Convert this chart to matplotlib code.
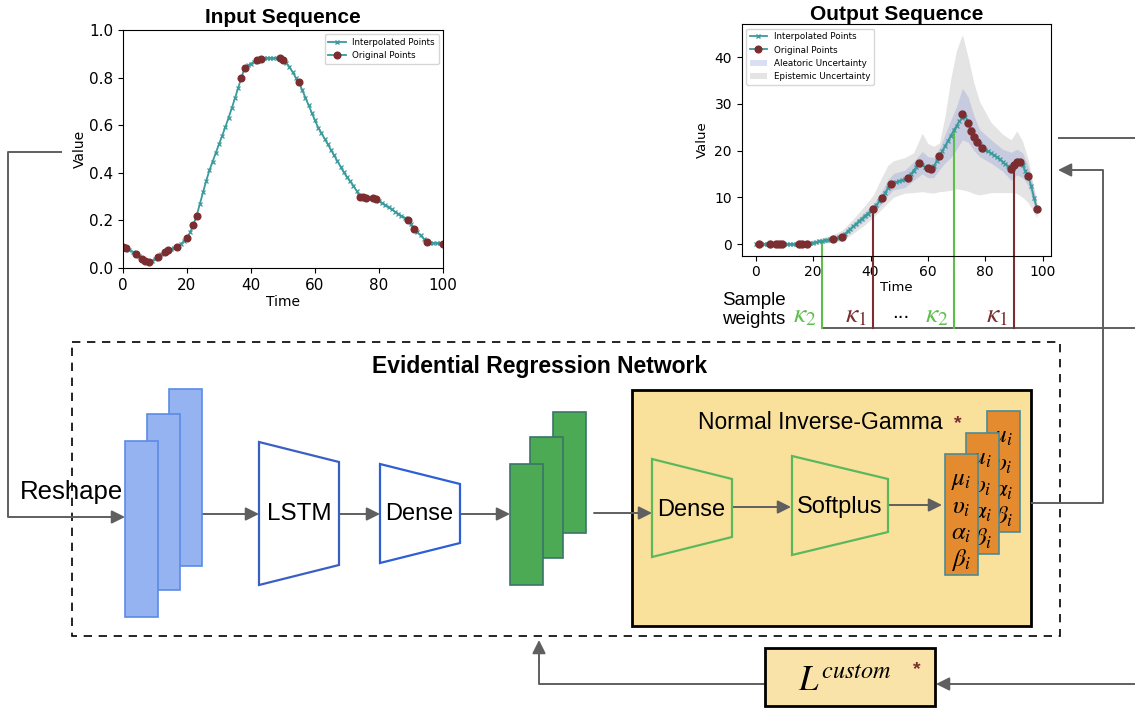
import matplotlib
matplotlib.use("Agg")
import matplotlib.pyplot as plt
from matplotlib.patches import Rectangle, Polygon, Patch
from matplotlib.lines import Line2D

plt.rcParams["mathtext.fontset"] = "stix"

# Serie de entrada (normalizada)
inp_time = list(range(101))
inp_interp = [0.090, 0.085, 0.077, 0.068, 0.060, 0.050, 0.037, 0.030, 0.024, 0.030,
              0.038, 0.045, 0.058, 0.068, 0.076, 0.080, 0.085, 0.090, 0.100, 0.112,
              0.125, 0.150, 0.182, 0.220, 0.268, 0.318, 0.366, 0.410, 0.447, 0.484,
              0.520, 0.556, 0.593, 0.632, 0.672, 0.714, 0.757, 0.800, 0.840, 0.851,
              0.859, 0.866, 0.873, 0.880, 0.882, 0.882, 0.882, 0.882, 0.882, 0.882,
              0.876, 0.862, 0.845, 0.823, 0.800, 0.780, 0.748, 0.716, 0.684, 0.652,
              0.620, 0.590, 0.567, 0.543, 0.520, 0.496, 0.473, 0.449, 0.426, 0.402,
              0.382, 0.364, 0.346, 0.324, 0.300, 0.297, 0.295, 0.295, 0.295, 0.290,
              0.282, 0.273, 0.264, 0.255, 0.246, 0.237, 0.228, 0.219, 0.211, 0.203,
              0.183, 0.163, 0.150, 0.137, 0.123, 0.110, 0.107, 0.105, 0.105, 0.104,
              0.100]
inp_orig_time = [0, 1, 4, 6, 7, 8, 11, 13, 14, 17, 20, 22, 23, 37, 38, 42, 43,
                 49, 50, 55, 74, 75, 76, 78, 79, 89, 91, 95, 100]
inp_orig_val = [0.090, 0.085, 0.060, 0.037, 0.030, 0.024, 0.045, 0.068, 0.076,
                0.090, 0.125, 0.182, 0.220, 0.800, 0.840, 0.873, 0.880, 0.882,
                0.876, 0.780, 0.300, 0.297, 0.295, 0.295, 0.290, 0.203, 0.163,
                0.110, 0.100]

# Serie de saida
out_time = list(range(99))
out_interp = [0.0, 0.0, 0.0, 0.0, 0.0, 0.0, 0.0, 0.0, 0.0, 0.0,
              0.0, 0.0, 0.0, 0.0, 0.0, 0.0, 0.0, 0.05, 0.1, 0.2,
              0.3, 0.42, 0.55, 0.68, 0.8, 0.9, 1.0, 1.1, 1.25, 1.4,
              1.6, 2.1, 2.7, 3.2, 3.8, 4.3, 4.9, 5.4, 6.0, 6.5,
              7.0, 7.5, 8.3, 9.1, 9.9, 10.9, 11.9, 12.9, 13.1, 13.3,
              13.5, 13.7, 13.9, 14.1, 14.9, 15.7, 16.5, 17.3, 16.9, 16.5,
              16.2, 16.0, 16.6, 17.7, 18.8, 19.9, 21.0, 22.1, 23.2, 24.3,
              25.3, 26.3, 27.0, 27.2, 26.2, 24.6, 23.1, 22.1, 21.3, 20.6,
              20.2, 19.8, 19.4, 19.0, 18.6, 18.1, 17.6, 17.1, 16.6, 16.1,
              16.9, 17.3, 17.3, 16.8, 15.6, 14.4, 12.4, 9.8, 7.6]
out_orig_time = [1, 5, 7, 8, 9, 15, 16, 18, 27, 30, 41, 44, 47, 53, 57, 60, 61,
                 64, 72, 74, 75, 76, 77, 79, 89, 90, 91, 92, 95, 98]
out_orig_val = [0.0, 0.0, 0.0, 0.0, 0.0, 0.0, 0.0, 0.0, 1.1, 1.5, 7.4, 9.9, 12.9,
                14.1, 17.4, 16.2, 16.0, 18.8, 27.8, 25.9, 24.2, 22.9, 21.9, 20.6,
                16.0, 17.0, 17.5, 17.5, 14.6, 7.4]

# Faixas de incerteza
band_time = [0, 16, 20, 26, 30, 34, 38, 41, 44, 46, 48, 52, 55, 58, 60, 62, 64,
             66, 68, 70, 72, 74, 76, 78, 82, 86, 89, 91, 93, 95, 98]
epi_high = [0.3, 0.3, 0.9, 1.8, 2.9, 5.4, 8.2, 10.5, 14.4, 16.8, 17.8, 18.5, 19.5,
            23.7, 21.5, 20.9, 21.6, 27.5, 35.5, 41.5, 44.8, 40.0, 34.5, 30.5, 26.0,
            23.5, 22.3, 24.2, 22.0, 18.0, 8.8]
epi_low = [-0.3, -0.3, -0.2, 0.3, 0.6, 2.3, 4.1, 5.8, 7.5, 8.8, 10.0, 10.9, 11.0,
           11.2, 11.0, 10.9, 11.2, 11.3, 11.5, 11.8, 11.6, 11.3, 10.8, 10.5, 11.0,
           11.0, 11.0, 10.8, 10.0, 8.8, 5.6]
ale_high = [0.15, 0.15, 0.6, 1.4, 2.1, 4.5, 6.9, 8.5, 11.3, 13.7, 15.1, 15.8, 17.6,
            19.8, 18.7, 18.5, 20.5, 23.5, 26.5, 29.5, 33.3, 31.5, 27.5, 24.5, 22.3,
            20.3, 19.6, 20.3, 19.5, 16.6, 8.6]
ale_low = [-0.15, -0.15, 0.1, 0.6, 1.1, 3.1, 5.1, 6.6, 8.6, 10.4, 11.6, 12.1, 13.6,
           15.0, 14.2, 14.2, 15.9, 17.4, 18.5, 20.3, 22.3, 21.8, 20.0, 18.7, 17.3,
           15.6, 13.6, 14.8, 14.2, 12.5, 6.2]

# Pesos das amostras
weight_time = [23, 41, 69, 90]
weight_label = [r"$\kappa_2$", r"$\kappa_1$", r"$\kappa_2$", r"$\kappa_1$"]
weight_kind = ["k2", "k1", "k2", "k1"]

param_labels = [r"$\mu_i$", r"$\upsilon_i$", r"$\alpha_i$", r"$\beta_i$"]

TEAL = "#3a9a9c"
MAROON = "#7b2d30"
GREEN = "#5cbf4a"
GREY = "#5f5f5f"
SANS = "Liberation Sans"
weight_color = {"k2": GREEN, "k1": MAROON}

W, H = 1135, 710
fig = plt.figure(figsize=(W / 100, H / 100), dpi=100)

# Eixo de fundo em pixels para o diagrama
ax = fig.add_axes([0, 0, 1, 1])
ax.set_xlim(0, W)
ax.set_ylim(H, 0)
ax.axis("off")


def seta(x0, y0, x1, y1, z=3):
    ax.annotate("", xy=(x1, y1), xytext=(x0, y0),
                arrowprops=dict(arrowstyle="-|>", color=GREY, lw=1.4,
                                mutation_scale=20, shrinkA=0, shrinkB=0),
                zorder=z)


def linha(xs, ys, z=3):
    ax.plot(xs, ys, color=GREY, lw=1.4, zorder=z, solid_capstyle="butt")


def trapezio(xl, ylt, ylb, xr, yrt, yrb, ec, z=4):
    ax.add_patch(Polygon([(xl, ylt), (xr, yrt), (xr, yrb), (xl, ylb)], closed=True,
                         fc="none", ec=ec, lw=1.6, zorder=z))


# Caixa tracejada da rede
ax.add_patch(Rectangle((72, 342), 988, 294, fill=False, ec="black", lw=1.2,
                       ls=(0, (5, 4)), zorder=1))
ax.text(540, 366, "Evidential Regression Network", fontfamily=SANS,
        fontweight="bold", fontsize=16.5, ha="center", va="center")

# Entrada: Reshape
linha([62, 8, 8], [152, 152, 517])
seta(8, 517, 125, 517)
ax.text(20, 499, "Reshape", fontfamily=SANS, fontsize=18.5, ha="left", va="baseline", zorder=6)

# Blocos azuis
for (x, y0, y1) in [(169, 389, 566), (147, 414, 590), (125, 441, 617)]:
    ax.add_patch(Rectangle((x, y0), 33, y1 - y0, fc="#94b3f0", ec="#5b8be6", lw=1.2, zorder=4))

seta(202, 514, 259, 514)
trapezio(259, 442, 585, 339, 462, 565, "#3b5fc0")
ax.text(299, 514, "LSTM", fontfamily=SANS, fontsize=17.5, ha="center", va="center")
seta(339, 514, 380, 514)
trapezio(380, 464, 563, 460, 484, 543, "#2c5fd6")
ax.text(419, 514, "Dense", fontfamily=SANS, fontsize=17, ha="center", va="center")
seta(460, 514, 510, 514)

# Blocos verdes
for (x, y0, y1) in [(553, 412, 533), (530, 437, 558), (510, 464, 585)]:
    ax.add_patch(Rectangle((x, y0), 33, y1 - y0, fc="#4caa55", ec="#3a7568", lw=1.2, zorder=4))

# Caixa Normal Inverse-Gamma
ax.add_patch(Rectangle((632, 390), 399, 236, fc="#f9e19b", ec="black", lw=2, zorder=2))
ax.text(820, 429, "Normal Inverse-Gamma", fontfamily=SANS, fontsize=16.5,
        ha="center", va="baseline", zorder=5)
ax.text(958, 424, "*", color=MAROON, fontfamily=SANS, fontweight="bold",
        fontsize=14, ha="center", va="center", zorder=5)
seta(594, 513, 652, 513)
trapezio(652, 459, 557, 732, 479, 537, "#5cb85c")
ax.text(691, 510, "Dense", fontfamily=SANS, fontsize=17, ha="center", va="center")
seta(732, 507, 791, 507)
trapezio(792, 456, 555, 888, 479, 532, "#5cb85c")
ax.text(840, 507, "Softplus", fontfamily=SANS, fontsize=17, ha="center", va="center")
seta(888, 505, 942, 505)

# Blocos laranja com os parametros
for k, (x, y0) in enumerate([(987, 411), (966, 433), (945, 454)]):
    z = 5 + k
    ax.add_patch(Rectangle((x, y0), 33, 121, fc="#e38b2e", ec="#4a8c96", lw=1.2, zorder=z))
    for j, lab in enumerate(param_labels):
        ax.text(x + 16.5, y0 + 26 + 26.7 * j, lab, fontsize=18, ha="center",
                va="center", zorder=z + 0.1)

# Saida do NIG para a serie de saida
linha([1031, 1103, 1103], [503, 503, 170])
seta(1103, 170, 1058, 170)
linha([1058, W], [138, 138])

# Perda customizada
ax.add_patch(Rectangle((765, 648), 170, 58, fc="#f9e3a9", ec="black", lw=2, zorder=4))
ax.text(845, 681, r"$L^{custom}$", fontsize=25, ha="center", va="center", zorder=5)
ax.text(917, 670, "*", color=MAROON, fontfamily=SANS, fontweight="bold",
        fontsize=14, ha="center", va="center", zorder=5)
seta(W, 684, 936, 684)
linha([765, 539, 539], [684, 684, 660])
seta(539, 662, 539, 640)

# Grafico da serie de entrada
ax_in = fig.add_axes([123 / W, 1 - 268 / H, 320 / W, 238 / H])
ax_in.plot(inp_time, inp_interp, color=TEAL, marker="x", ms=3.5, mew=0.9, lw=1.3)
ax_in.plot(inp_orig_time, inp_orig_val, ls="none", marker="o", ms=4.8, color=MAROON)
ax_in.set_xlim(0, 100)
ax_in.set_ylim(0, 1)
ax_in.set_xticks([0, 20, 40, 60, 80, 100])
ax_in.set_yticks([0.0, 0.2, 0.4, 0.6, 0.8, 1.0])
ax_in.tick_params(labelsize=11)
ax_in.set_xlabel("Time", fontsize=10, labelpad=2)
ax_in.set_ylabel("Value", fontsize=10, labelpad=1.5)
ax_in.set_title("Input Sequence", fontfamily=SANS, fontweight="bold", fontsize=15, pad=5)

h_interp = Line2D([], [], color=TEAL, marker="x", ms=3.5, lw=1.3)
h_orig = Line2D([], [], color=TEAL, marker="o", ms=4.8, mfc=MAROON, mec=MAROON, lw=1.3)
ax_in.legend([h_interp, h_orig], ["Interpolated Points", "Original Points"],
             loc="upper right", fontsize=6.3)

# Grafico da serie de saida
ax_out = fig.add_axes([741.7 / W, 1 - 255.7 / H, 309.3 / W, 231.4 / H])
ax_out.fill_between(band_time, epi_low, epi_high, color="#bdbdbd", alpha=0.4, lw=0)
ax_out.fill_between(band_time, ale_low, ale_high, color="#6f84d6", alpha=0.25, lw=0)
ax_out.plot(out_time, out_interp, color=TEAL, marker="x", ms=3.5, mew=0.9, lw=1.3, zorder=3)
ax_out.plot(out_orig_time, out_orig_val, ls="none", marker="o", ms=5, color=MAROON, zorder=4)
ax_out.set_xlim(-4.9, 102.9)
ax_out.set_ylim(-2.5, 47.0)
ax_out.set_xticks([0, 20, 40, 60, 80, 100])
ax_out.set_yticks([0, 10, 20, 30, 40])
ax_out.tick_params(labelsize=10)
ax_out.set_xlabel("Time", fontsize=9.5, labelpad=1)
ax_out.set_ylabel("Value", fontsize=9.5)
ax_out.set_title("Output Sequence", fontfamily=SANS, fontweight="bold", fontsize=15, pad=2)
ax_out.legend([h_interp, h_orig, Patch(color="#6f84d6", alpha=0.25, lw=0),
               Patch(color="#bdbdbd", alpha=0.4, lw=0)],
              ["Interpolated Points", "Original Points", "Aleatoric Uncertainty",
               "Epistemic Uncertainty"], loc="upper left", fontsize=6.3)

# Linhas dos pesos, descendo do grafico ate a linha horizontal
y_base = 328
y_disp = ax.transData.transform((0, y_base))[1]
y_bot = ax_out.transData.inverted().transform((0, y_disp))[1]
x_first = None
for t, lab, kind in zip(weight_time, weight_label, weight_kind):
    c = weight_color[kind]
    ax_out.plot([t, t], [out_interp[t], y_bot], color=c, lw=1.5, clip_on=False, zorder=2)
    x_pix = ax.transData.inverted().transform(ax_out.transData.transform((t, 0)))[0]
    if x_first is None:
        x_first = x_pix
    ax.text(x_pix - 17, 314, lab, color=c, fontsize=20, ha="center", va="center")
ax.text(901, 312, "...", fontfamily=SANS, fontsize=15, ha="center", va="center")
linha([x_first, W], [y_base, y_base])

ax.text(722, 305, "Sample", fontfamily=SANS, fontsize=13.5, ha="left", va="baseline")
ax.text(722, 324, "weights", fontfamily=SANS, fontsize=13.5, ha="left", va="baseline")

fig.savefig("out.png", dpi=100)
